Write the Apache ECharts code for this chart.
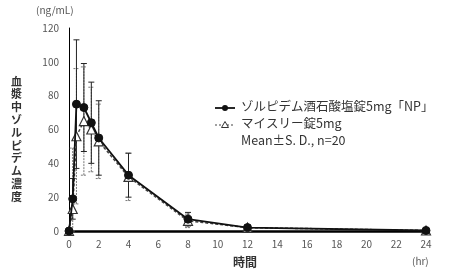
<!DOCTYPE html>
<html><head><meta charset="utf-8">
<script src="https://cdn.jsdelivr.net/npm/echarts@6/dist/echarts.min.js"></script>
<style>html,body{margin:0;padding:0;background:#fff}#c{width:450px;height:277px}</style>
</head><body><div id="c"></div>
<script>
const times = [0, 0.25, 0.5, 1, 1.5, 2, 4, 8, 12, 24];
const npMean = [0, 19, 75, 73, 64, 55, 33, 7, 2, 0.3];
const npSD   = [0, 12, 38, 26, 24, 22, 13, 4, 1.5, 0.3];
const myMean = [0, 13, 56, 65, 60, 53, 32, 6, 2, 0.3];
const mySD   = [0, 36, 40, 32, 25, 22, 14, 4, 1.5, 0.3];
const xTicks = [0, 2, 4, 6, 8, 10, 12, 14, 16, 18, 20, 22, 24];
const yTicks = [0, 20, 40, 60, 80, 100, 120];
const names = ['ゾルピデム酒石酸塩錠5mg「NP」', 'マイスリー錠5mg'];

const font = '"Noto Sans CJK JP", "Noto Sans", sans-serif';
function errData(mean, sd){ return times.map((t,i)=>[t, mean[i]-sd[i], mean[i]+sd[i]]); }
function errSeries(mean, sd, color, dashed){
  return {
    type:'custom', z:1, silent:true,
    data: errData(mean, sd),
    renderItem: function(params, api){
      const x = api.value(0);
      const lo = api.coord([x, Math.max(0, api.value(1))]);
      const hi = api.coord([x, api.value(2)]);
      const w = 3;
      const st = {stroke:color, lineWidth:1, lineDash: dashed ? [2,1] : null};
      return {type:'group', children:[
        {type:'line', shape:{x1:lo[0],y1:lo[1],x2:hi[0],y2:hi[1]}, style:st},
        {type:'line', shape:{x1:hi[0]-w,y1:hi[1],x2:hi[0]+w,y2:hi[1]}, style:st},
        {type:'line', shape:{x1:lo[0]-w,y1:lo[1],x2:lo[0]+w,y2:lo[1]}, style:st}
      ]};
    }
  };
}
const chart = echarts.init(document.getElementById('c'), null, {renderer:'canvas'});
chart.setOption({
  animation:false,
  backgroundColor:'#fff',
  grid:{left:69, right:24, top:28, bottom:46},
  xAxis:{
    type:'value', min:0, max:24, interval:2,
    axisLine:{show:true, onZero:false, lineStyle:{color:'#000', width:2.5}},
    axisTick:{show:false}, splitLine:{show:false},
    axisLabel:{color:'#555', fontSize:10, fontFamily:font, margin:8,
      formatter: v => xTicks.includes(v) ? String(v) : ''}
  },
  yAxis:{
    type:'value', min:0, max:120, interval:20,
    axisLine:{show:true, lineStyle:{color:'#000', width:1}},
    axisTick:{show:false}, splitLine:{show:false},
    axisLabel:{color:'#555', fontSize:10, fontFamily:font, margin:10,
      formatter: v => yTicks.includes(v) ? String(v) : ''}
  },
  legend:{show:false},
  series:[
    errSeries(myMean, mySD, '#777', true),
    errSeries(npMean, npSD, '#222', false),
    {name:names[1], type:'line', z:3, data: times.map((t,i)=>[t, myMean[i]]),
     symbol:'triangle', symbolSize:9,
     lineStyle:{color:'#444', width:1.5, type:[3,2]},
     itemStyle:{color:'#fff', borderColor:'#333', borderWidth:1.2}},
    {name:names[0], type:'line', z:4, data: times.map((t,i)=>[t, npMean[i]]),
     symbol:'circle', symbolSize:8,
     lineStyle:{color:'#111', width:1.8},
     itemStyle:{color:'#111', borderColor:'#111'}}
  ],
  graphic:[
    {type:'text', left:36, top:5, style:{text:'(ng/mL)', font:'10px '+font, fill:'#555'}},
    {type:'text', left:11, top:75, style:{text:'血\n漿\n中\nゾ\nル\nピ\nデ\nム\n濃\n度', font:'bold 11px '+font, fill:'#333', lineHeight:12.8}},
    {type:'text', left:233, top:256, style:{text:'時間', font:'bold 12px '+font, fill:'#333'}},
    {type:'text', left:412, top:256, style:{text:'(hr)', font:'10px '+font, fill:'#555'}},
    {type:'line', shape:{x1:215,y1:108,x2:235,y2:108}, style:{stroke:'#111', lineWidth:1.8}},
    {type:'circle', shape:{cx:225,cy:108,r:3}, style:{fill:'#111'}},
    {type:'line', shape:{x1:215,y1:125,x2:235,y2:125}, style:{stroke:'#444', lineWidth:1, lineDash:[2,2]}},
    {type:'polygon', shape:{points:[[225,121.5],[228.5,127.5],[221.5,127.5]]}, style:{fill:'#fff', stroke:'#333', lineWidth:1}},
    {type:'text', left:241, top:100, style:{text:names[0], font:'12.5px '+font, fill:'#333'}},
    {type:'text', left:241, top:117, style:{text:names[1], font:'12.5px '+font, fill:'#333'}},
    {type:'text', left:241, top:134, style:{text:'Mean±S. D., n=20', font:'12.5px '+font, fill:'#333'}}
  ]
});
</script></body></html>
